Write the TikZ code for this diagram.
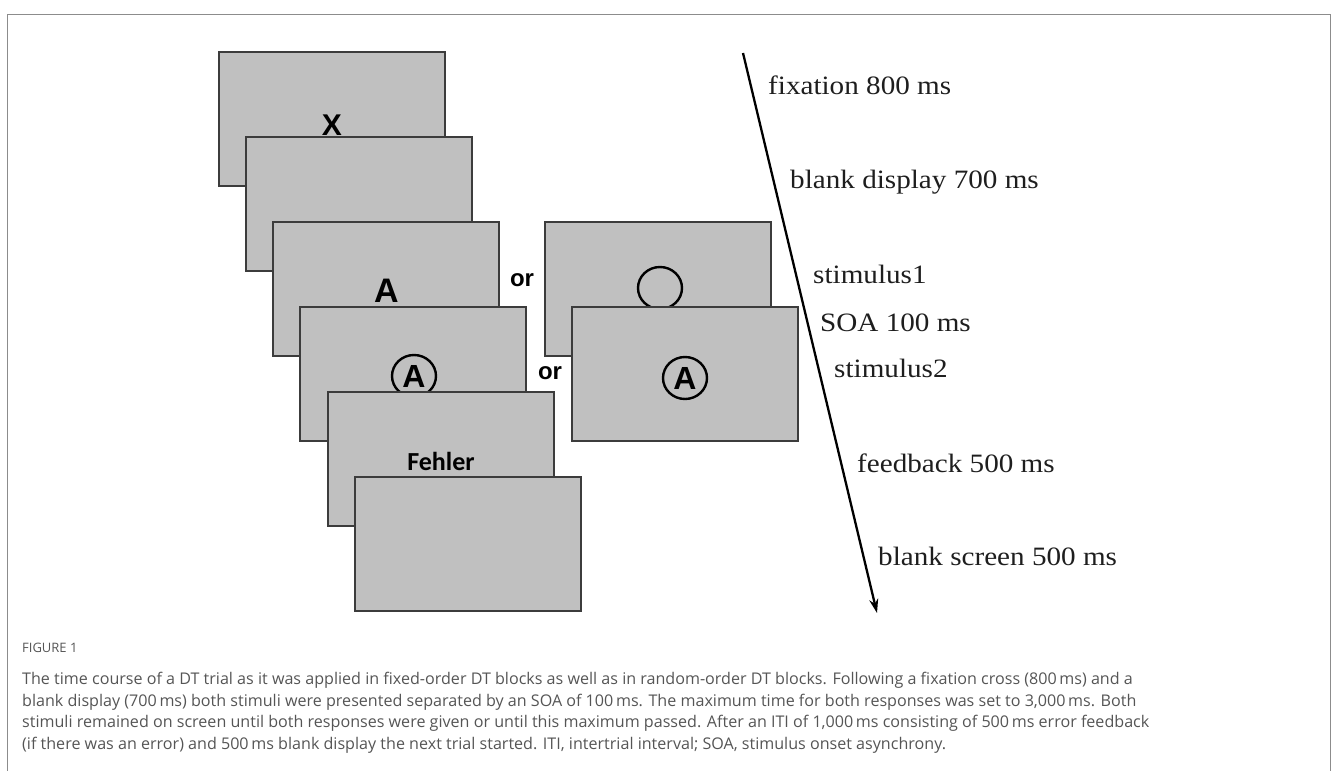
\documentclass[tikz,border=0pt]{standalone}
\usepackage{fontspec}
\setmainfont{Liberation Serif}
\newfontfamily\arialbf{Liberation Sans}
\newfontfamily\calibri{Carlito}
\newfontfamily\capfont{Open Sans}
\usetikzlibrary{arrows.meta,shapes.geometric}
\definecolor{scrgray}{RGB}{192,192,192}
\definecolor{scredge}{RGB}{60,60,60}
\definecolor{framegray}{RGB}{140,140,140}
\definecolor{captext}{RGB}{85,85,85}
\definecolor{labtext}{RGB}{30,30,30}
\newcommand{\wide}[1]{\scalebox{1.1}[1]{#1}}
\begin{document}
\begin{tikzpicture}[x=1pt,y=-1pt,
  screen/.style={draw=scredge,fill=scrgray,line width=1.3pt,minimum width=226pt,minimum height=134pt,anchor=north west,inner sep=0pt,outer sep=0pt},
  stimtext/.style={font=\arialbf\bfseries\fontsize{30}{33}\selectfont,inner sep=0pt,text=black},
  bigA/.style={font=\arialbf\bfseries\fontsize{34}{38}\selectfont,inner sep=0pt,text=black},
  ring/.style={ellipse,draw=black,line width=2.4pt,minimum width=44pt,minimum height=42pt,inner sep=0pt},
  circA/.style={ring,font=\arialbf\bfseries\fontsize{32}{36}\selectfont},
  ortext/.style={font=\arialbf\bfseries\fontsize{24}{28}\selectfont,inner sep=0pt},
  timelab/.style={font=\fontsize{26.5}{30}\selectfont,text=labtext,anchor=base west,inner sep=0pt},
  capline/.style={font=\capfont\fontsize{16.1}{20}\selectfont,text=captext,anchor=base west,inner sep=0pt}]
\useasboundingbox (0,0) rectangle (1331,771);
% frame
\draw[framegray,line width=1pt] (7,771) -- (7,14) -- (1330,14) -- (1330,771);
% left stack
\node[screen] (s1) at (219,52) {};
\node[stimtext] (tx) at (332,125) {X};
\node[screen] (s2) at (246,137) {};
\node[screen] (s3) at (273,222) {};
\node[bigA] (ta) at (386.5,290.5) {A};
\node[screen] (s4) at (300,307) {};
\node[circA] (ca1) at (414,376) {A};
\node[screen] (s5) at (328,392) {};
\node[font=\calibri\bfseries\fontsize{26}{30}\selectfont,inner sep=0pt] (fe) at (441,461) {Fehler};
\node[screen] (s6) at (355,477) {};
% right stack
\node[screen] (r1) at (545,222) {};
\node[ring] (circ) at (660,288) {};
\node[screen] (r2) at (572,307) {};
\node[circA] (ca2) at (685,378) {A};
% or
\node[ortext] (or1) at (522,280) {or};
\node[ortext] (or2) at (550,373) {or};
% time arrow
\coordinate (tstart) at (743,53);
\coordinate (tend) at (877,613);
\draw[line width=2.3pt,-{Stealth[length=14pt,width=9pt]}] (tstart) -- (tend);
% labels
\node[timelab] (l1) at (768,94) {\wide{fixation 800 ms}};
\node[timelab] (l2) at (790,188) {\wide{blank display 700 ms}};
\node[timelab] (l3) at (813,283) {\wide{stimulus1}};
\node[timelab] (l4) at (820,331) {\wide{SOA 100 ms}};
\node[timelab] (l5) at (834,377) {\wide{stimulus2}};
\node[timelab] (l6) at (857,472) {\wide{feedback 500 ms}};
\node[timelab] (l7) at (878,565) {\wide{blank screen 500 ms}};
% caption
\node[font=\capfont\fontsize{13}{15}\selectfont,text=captext,anchor=base west,inner sep=0pt] (fig) at (22,652) {FIGURE 1};
\node[capline] (c1) at (22,684.3) {The time course of a DT trial as it was applied in fixed-order DT blocks as well as in random-order DT blocks. Following a fixation cross (800\,ms) and a};
\node[capline] (c2) at (22,706) {blank display (700\,ms) both stimuli were presented separated by an SOA of 100\,ms. The maximum time for both responses was set to 3,000\,ms. Both};
\node[capline] (c3) at (22,727.5) {stimuli remained on screen until both responses were given or until this maximum passed. After an ITI of 1,000\,ms consisting of 500\,ms error feedback};
\node[capline] (c4) at (22,749.3) {(if there was an error) and 500\,ms blank display the next trial started. ITI, intertrial interval; SOA, stimulus onset asynchrony.};
\end{tikzpicture}
\end{document}
